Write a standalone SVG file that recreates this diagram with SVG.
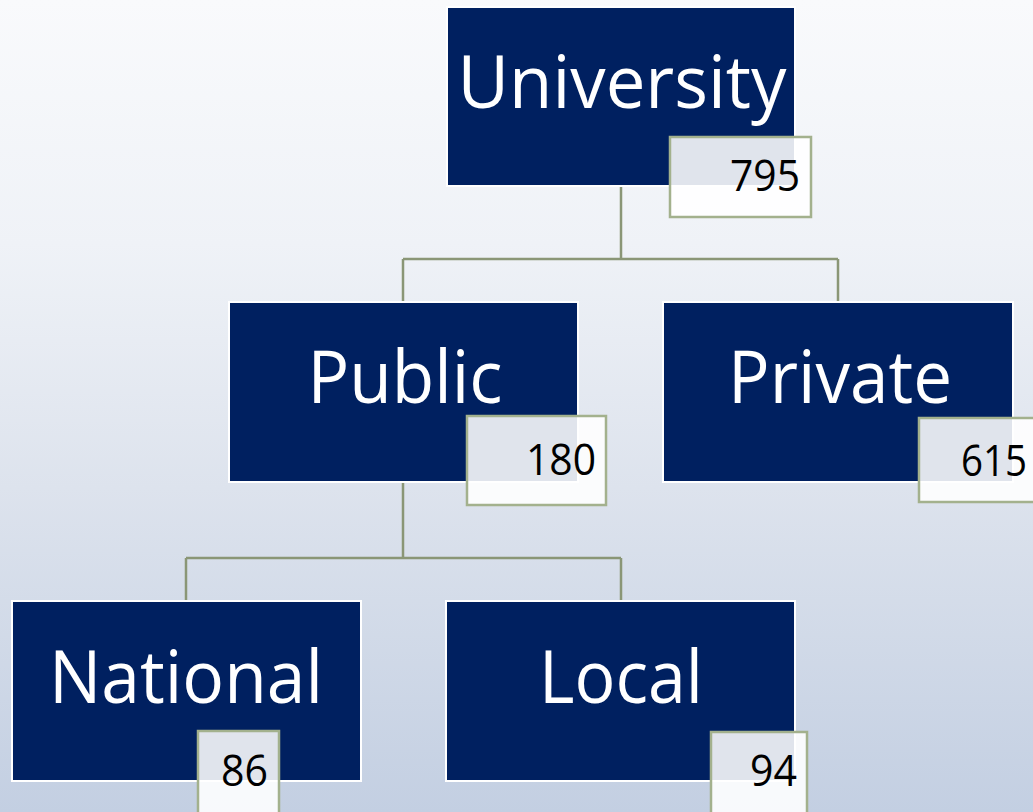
<svg xmlns="http://www.w3.org/2000/svg" width="1033" height="812" viewBox="0 0 1033 812">
  <defs>
    <linearGradient id="bg" x1="0" y1="0" x2="0" y2="1">
      <stop offset="0" stop-color="#f9fafc"/>
      <stop offset="0.3" stop-color="#eff2f7"/>
      <stop offset="0.6" stop-color="#dde3ed"/>
      <stop offset="1" stop-color="#c3cfe2"/>
    </linearGradient>
    <style>
      .node { fill: #002060; stroke: #ffffff; stroke-width: 2; }
      .val { fill: #ffffff; fill-opacity: 0.88; stroke: #a3b18d; stroke-width: 2.5; }
      .lbl { font-family: "Open Sans", "Liberation Sans", sans-serif; font-size: 74px; fill: #ffffff; text-anchor: middle; }
      .num { font-family: "Open Sans", "Liberation Sans", sans-serif; font-size: 43px; fill: #000000; text-anchor: end; }
      .conn { fill: none; stroke: #8a9676; stroke-width: 2.5; }
    </style>
  </defs>
  <rect x="0" y="0" width="1033" height="812" fill="url(#bg)"/>
  <g id="connectors">
    <path class="conn" d="M621,187 V259 M403,259 H838 M403,259 V302 M838,259 V302"/>
    <path class="conn" d="M403,482 V558 M186,558 H621 M186,558 V601 M621,558 V601"/>
  </g>
  <g id="node-university">
    <rect class="node" x="447" y="7" width="348" height="179"/>
    <text class="lbl" x="622" y="108" textLength="329" lengthAdjust="spacingAndGlyphs">University</text>
    <rect class="val" x="670" y="137" width="141" height="80"/>
    <text class="num" x="800" y="191" textLength="70" lengthAdjust="spacingAndGlyphs">795</text>
  </g>
  <g id="node-public">
    <rect class="node" x="229" y="302" width="349" height="180"/>
    <text class="lbl" x="405" y="403" textLength="195" lengthAdjust="spacingAndGlyphs">Public</text>
    <rect class="val" x="467" y="416" width="139" height="89"/>
    <text class="num" x="596" y="475" textLength="70" lengthAdjust="spacingAndGlyphs">180</text>
  </g>
  <g id="node-private">
    <rect class="node" x="663" y="302" width="350" height="180"/>
    <text class="lbl" x="840" y="403" textLength="224" lengthAdjust="spacingAndGlyphs">Private</text>
    <rect class="val" x="919" y="418" width="141" height="84"/>
    <text class="num" x="1027" y="476" textLength="66" lengthAdjust="spacingAndGlyphs">615</text>
  </g>
  <g id="node-national">
    <rect class="node" x="12" y="601" width="349" height="180"/>
    <text class="lbl" x="186" y="703" textLength="274" lengthAdjust="spacingAndGlyphs">National</text>
    <rect class="val" x="198" y="731" width="81" height="95"/>
    <text class="num" x="268" y="786" textLength="47" lengthAdjust="spacingAndGlyphs">86</text>
  </g>
  <g id="node-local">
    <rect class="node" x="446" y="601" width="349" height="180"/>
    <text class="lbl" x="621" y="703" textLength="164" lengthAdjust="spacingAndGlyphs">Local</text>
    <rect class="val" x="711" y="732" width="96" height="95"/>
    <text class="num" x="797" y="786" textLength="47" lengthAdjust="spacingAndGlyphs">94</text>
  </g>
</svg>
